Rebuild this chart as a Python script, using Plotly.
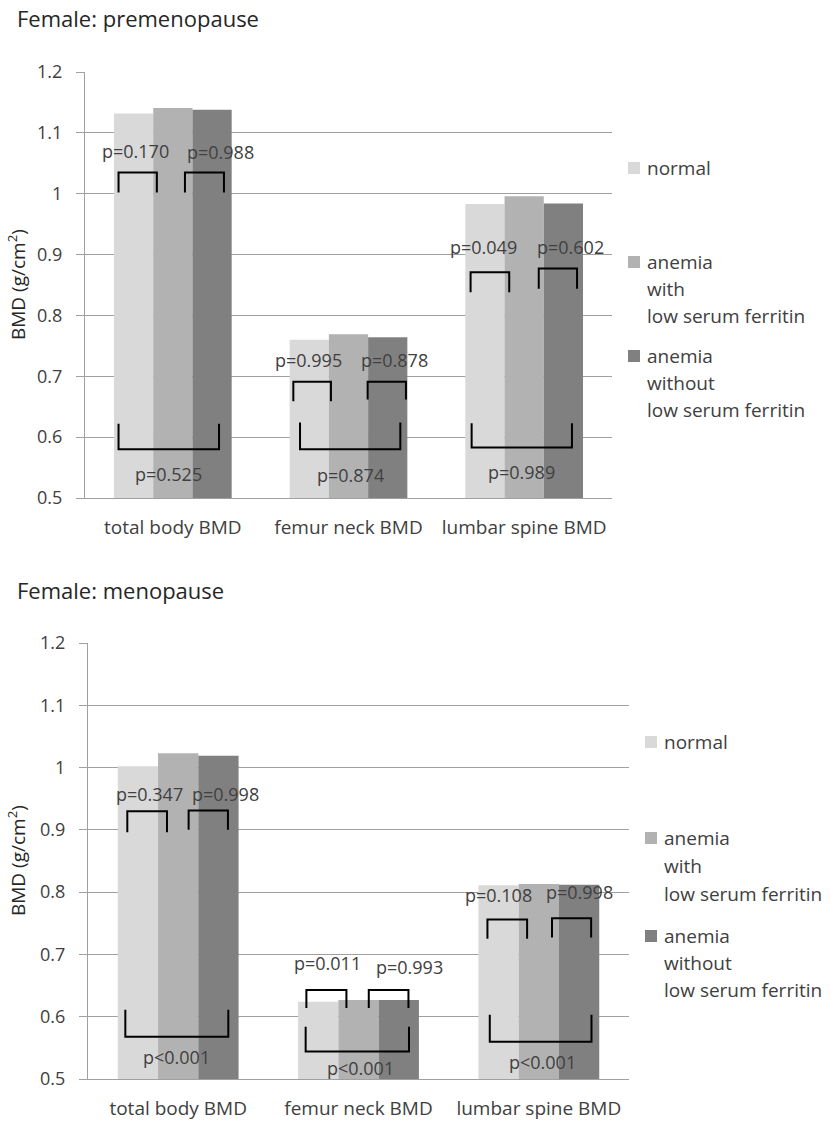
import plotly.graph_objects as go

# ---- data ---------------------------------------------------------------
categories = ["total body BMD", "femur neck BMD", "lumbar spine BMD"]
group_names = ["normal", "anemia with low serum ferritin", "anemia without low serum ferritin"]
legend_lines = [["normal"],
                ["anemia", "with", "low serum ferritin"],
                ["anemia", "without", "low serum ferritin"]]

pre_normal = [1.132, 0.760, 0.983]
pre_low_ferritin = [1.141, 0.769, 0.996]
pre_no_low_ferritin = [1.138, 0.764, 0.984]

meno_normal = [1.002, 0.624, 0.811]
meno_low_ferritin = [1.023, 0.627, 0.813]
meno_no_low_ferritin = [1.019, 0.627, 0.812]

pre_p_left = ["p=0.170", "p=0.995", "p=0.049"]
pre_p_right = ["p=0.988", "p=0.878", "p=0.602"]
pre_p_outer = ["p=0.525", "p=0.874", "p=0.989"]

meno_p_left = ["p=0.347", "p=0.011", "p=0.108"]
meno_p_right = ["p=0.998", "p=0.993", "p=0.998"]
meno_p_outer = ["p<0.001", "p<0.001", "p<0.001"]

y_tickvals = [0.5, 0.6, 0.7, 0.8, 0.9, 1.0, 1.1, 1.2]
y_ticktext = ["0.5", "0.6", "0.7", "0.8", "0.9", "1", "1.1", "1.2"]

# ---- styling / layout ---------------------------------------------------
W, H = 834, 1123
FONT = "'Open Sans', Lato, sans-serif"
TXT = "#404040"
GRID = "#a0a0a0"
colors = ["#d9d9d9", "#b2b2b2", "#808080"]


def px(x):
    return x / W


def py(y):
    return 1 - y / H


# bracket geometry per category, offsets relative to category centre
# left/right: (x0, x1, y_top, y_end); outer: (x0, x1, y_line, y_end)
# labels: (dx, y) for left, right, outer
pre_brackets = [
    dict(left=(-0.309, -0.091, 1.035, 1.002), right=(0.069, 0.291, 1.035, 1.002),
         outer=(-0.309, 0.263, 0.580, 0.622),
         lab=[(-0.215, 1.071), (0.272, 1.069), (-0.027, 0.540)]),
    dict(left=(-0.314, -0.100, 0.691, 0.659), right=(0.109, 0.327, 0.691, 0.662),
         outer=(-0.276, 0.295, 0.580, 0.624),
         lab=[(-0.225, 0.727), (0.263, 0.727), (0.014, 0.537)]),
    dict(left=(-0.305, -0.085, 0.871, 0.838), right=(0.083, 0.301, 0.877, 0.844),
         outer=(-0.299, 0.272, 0.583, 0.623),
         lab=[(-0.229, 0.912), (0.265, 0.913), (-0.013, 0.542)]),
]
meno_brackets = [
    dict(left=(-0.282, -0.062, 0.930, 0.896), right=(0.058, 0.276, 0.931, 0.900),
         outer=(-0.293, 0.278, 0.568, 0.611),
         lab=[(-0.160, 0.957), (0.264, 0.957), (-0.007, 0.536)]),
    dict(left=(-0.289, -0.067, 0.643, 0.614), right=(0.057, 0.277, 0.643, 0.614),
         outer=(-0.293, 0.280, 0.544, 0.584),
         lab=[(-0.174, 0.687), (0.284, 0.680), (0.011, 0.518)]),
    dict(left=(-0.285, -0.065, 0.756, 0.725), right=(0.073, 0.290, 0.758, 0.727),
         outer=(-0.272, 0.292, 0.560, 0.603),
         lab=[(-0.226, 0.795), (0.225, 0.800), (0.021, 0.527)]),
]

panels = [
    dict(title="Female: premenopause", title_y=18,
         series=[pre_normal, pre_low_ferritin, pre_no_low_ferritin],
         pvals=[pre_p_left, pre_p_right, pre_p_outer], brackets=pre_brackets,
         xdom=(85, 612), ydom=(72, 498), xaxis="x", yaxis="y",
         legend_x=628, legend_rows=[[168], [262, 289, 316], [356, 383, 410]]),
    dict(title="Female: menopause", title_y=590,
         series=[meno_normal, meno_low_ferritin, meno_no_low_ferritin],
         pvals=[meno_p_left, meno_p_right, meno_p_outer], brackets=meno_brackets,
         xdom=(88, 629), ydom=(643, 1079), xaxis="x2", yaxis="y2",
         legend_x=645, legend_rows=[[742], [838, 866, 894], [936, 963, 990]]),
]

fig = go.Figure()
shapes, annotations = [], []
xpos = list(range(len(categories)))

for k, p in enumerate(panels):
    for name, vals, col in zip(group_names, p["series"], colors):
        fig.add_trace(go.Bar(x=xpos, y=vals, name=name, marker=dict(color=col, line=dict(width=0)),
                             xaxis=p["xaxis"], yaxis=p["yaxis"], showlegend=False,
                             hovertemplate="%{y:.3f}<extra>" + name + "</extra>"))

    sfx = "" if k == 0 else "2"
    xref, yref = "x" + sfx, "y" + sfx
    for c, b in enumerate(p["brackets"]):
        for key in ("left", "right"):
            x0, x1, yt, ye = b[key]
            shapes.append(dict(type="path", xref=xref, yref=yref,
                               path=f"M {c + x0},{ye} L {c + x0},{yt} L {c + x1},{yt} L {c + x1},{ye}",
                               line=dict(color="black", width=2)))
        x0, x1, yl, ye = b["outer"]
        shapes.append(dict(type="path", xref=xref, yref=yref,
                           path=f"M {c + x0},{ye} L {c + x0},{yl} L {c + x1},{yl} L {c + x1},{ye}",
                           line=dict(color="black", width=2)))
        for (dx, yy), plist in zip(b["lab"], p["pvals"]):
            annotations.append(dict(x=c + dx, y=yy, xref=xref, yref=yref, text=plist[c],
                                    showarrow=False, font=dict(family=FONT, size=18, color=TXT)))

    # panel heading
    annotations.append(dict(x=px(15), y=py(p["title_y"]), xref="paper", yref="paper",
                            text=p["title"], showarrow=False, xanchor="left", yanchor="middle",
                            font=dict(family=FONT, size=22, color="#262626")))
    # y axis title
    yc = (p["ydom"][0] + p["ydom"][1]) / 2
    annotations.append(dict(x=px(17), y=py(yc), xref="paper", yref="paper",
                            text="BMD (g/cm<sup>2</sup>)", textangle=-90, showarrow=False,
                            xanchor="center", yanchor="middle",
                            font=dict(family=FONT, size=19, color="#262626")))
    # legend
    lx = p["legend_x"]
    for col, lines, rows in zip(colors, legend_lines, p["legend_rows"]):
        shapes.append(dict(type="rect", xref="paper", yref="paper",
                           x0=px(lx), x1=px(lx + 12), y0=py(rows[0] + 6), y1=py(rows[0] - 6),
                           fillcolor=col, line=dict(width=0)))
        for line, ry in zip(lines, rows):
            annotations.append(dict(x=px(lx + 17), y=py(ry), xref="paper", yref="paper",
                                    text=line, showarrow=False, xanchor="left", yanchor="middle",
                                    font=dict(family=FONT, size=19, color=TXT)))

    axis_x = dict(domain=[px(p["xdom"][0]), px(p["xdom"][1])], range=[-0.5, 2.5],
                  tickvals=xpos, ticktext=categories, showgrid=False, zeroline=False,
                  showline=True, linecolor=GRID, linewidth=1, ticks="",
                  ticklabelstandoff=12, tickfont=dict(family=FONT, size=19, color=TXT),
                  anchor=yref, automargin=False, fixedrange=True)
    axis_y = dict(domain=[py(p["ydom"][1]), py(p["ydom"][0])], range=[0.5, 1.2],
                  tickvals=y_tickvals, ticktext=y_ticktext, showgrid=True, gridcolor=GRID,
                  gridwidth=1, zeroline=False, showline=True, linecolor=GRID, linewidth=1,
                  ticks="outside", ticklen=8, tickcolor=GRID, ticklabelstandoff=10,
                  tickfont=dict(family=FONT, size=18, color=TXT), anchor=xref,
                  automargin=False, fixedrange=True)
    fig.layout["xaxis" + sfx] = axis_x
    fig.layout["yaxis" + sfx] = axis_y

fig.update_layout(width=W, height=H, autosize=False, margin=dict(l=0, r=0, t=0, b=0, pad=0),
                  paper_bgcolor="white", plot_bgcolor="white",
                  barmode="group", bargap=0.33, bargroupgap=0,
                  shapes=shapes, annotations=annotations, showlegend=False,
                  font=dict(family=FONT, color=TXT))

fig.write_html("out.html")
